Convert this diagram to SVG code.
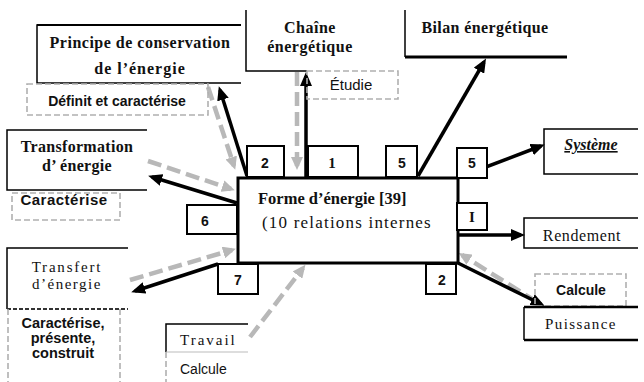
<svg xmlns="http://www.w3.org/2000/svg" width="644" height="382" viewBox="0 0 644 382">
<defs>
<style>
.bx{fill:none;stroke:#000;stroke-width:1.5}
.dbx{fill:none;stroke:#b0b0b0;stroke-width:1.6;stroke-dasharray:6,3}
.num{fill:#fff;stroke:#000;stroke-width:2}
.blk{stroke:#000;stroke-width:3.5;fill:none;marker-end:url(#ab)}
.gry{stroke:#b8b8b8;stroke-width:4.5;fill:none;stroke-dasharray:14,6;marker-end:url(#ag)}
</style>
<marker id="ab" markerUnits="userSpaceOnUse" markerWidth="14" markerHeight="12" viewBox="0 0 14 12" refX="10" refY="6" orient="auto">
<path d="M0,0 L14,6 L0,12 Z" fill="#000"/>
</marker>
<marker id="ag" markerUnits="userSpaceOnUse" markerWidth="13" markerHeight="12" viewBox="0 0 13 12" refX="9" refY="6" orient="auto">
<path d="M0,0 L13,6 L0,12 Z" fill="#b8b8b8"/>
</marker>
</defs>
<rect width="644" height="382" fill="#fff"/>

<g id="connectors">
<path class="gry" d="M208,87 L234,166"/>
<path class="gry" d="M148,161 L231,189"/>
<path class="gry" d="M130,280 L232,250"/>
<path class="gry" d="M250,337 L303,268"/>
<path class="gry" d="M537,302 L462,255"/>
<path class="gry" d="M297,72 L297,166"/>
<path class="blk" d="M247,176 L220,90"/>
<path class="blk" d="M306,178 L306,76"/>
<path class="blk" d="M418,176 L484,62"/>
<path class="blk" d="M457,178 L541,146"/>
<path class="blk" d="M458,235 L521,235"/>
<path class="blk" d="M458,263 L541,304"/>
<path class="blk" d="M237,203 L152,177"/>
<path class="blk" d="M218,264 L135,291"/>
</g>

<g id="central">
<rect x="238" y="178" width="220" height="85" fill="#fff" stroke="#000" stroke-width="3"/>
<text x="258" y="204" font-family="Liberation Serif, serif" font-weight="bold" font-size="16.5" fill="#111">Forme d’énergie [39]</text>
<text x="262" y="228" font-family="Liberation Serif, serif" font-size="17" fill="#111" letter-spacing="1.2">(10 relations internes</text>
</g>

<g font-family="Liberation Sans, Arial, sans-serif" font-weight="bold" font-size="14" fill="#111" text-anchor="middle">
<g id="n2top"><rect class="num" x="247" y="146" width="37" height="31"/><text x="265" y="168">2</text></g>
<g id="n1top"><rect class="num" x="308" y="146" width="50" height="31"/><text x="332" y="168" font-family="Liberation Serif, serif" font-size="15">1</text></g>
<g id="n5top"><rect class="num" x="386" y="146" width="31" height="31"/><text x="402" y="168">5</text></g>
<g id="n5right"><rect class="num" x="457" y="148" width="30" height="30"/><text x="472" y="168">5</text></g>
<g id="nIright"><rect class="num" x="457" y="203" width="30" height="27"/><text x="472" y="222" font-family="Liberation Serif, serif" font-size="15">I</text></g>
<g id="n6"><rect class="num" x="187" y="205" width="50" height="29"/><text x="205" y="226">6</text></g>
<g id="n7"><rect class="num" x="218" y="264" width="40" height="30"/><text x="238" y="285">7</text></g>
<g id="n2bot"><rect class="num" x="426" y="264" width="30" height="30"/><text x="442" y="285">2</text></g>
</g>

<g id="principe">
<path class="bx" d="M241,25 L37,25 L37,83 L241,83"/>
<path d="M37,25 L241,25" stroke="#000" stroke-width="2"/>
<text x="140" y="48" text-anchor="middle" font-family="Liberation Serif, serif" font-weight="bold" font-size="16" fill="#111" letter-spacing="0.5">Principe de conservation</text>
<text x="140" y="74" text-anchor="middle" font-family="Liberation Serif, serif" font-weight="bold" font-size="16" fill="#111" letter-spacing="1">de l’énergie</text>
</g>
<g id="definit">
<rect class="dbx" x="27" y="84" width="181" height="31"/>
<text x="117" y="106" text-anchor="middle" font-family="Liberation Sans, Arial, sans-serif" font-weight="bold" font-size="14" fill="#111">Définit et caractérise</text>
</g>

<g id="chaine">
<path class="bx" d="M246,10 L246,71 L307,71"/>
<text x="310" y="33" text-anchor="middle" font-family="Liberation Serif, serif" font-weight="bold" font-size="16" fill="#111" letter-spacing="0.5">Chaîne</text>
<text x="310" y="52" text-anchor="middle" font-family="Liberation Serif, serif" font-weight="bold" font-size="16" fill="#111" letter-spacing="0.5">énergétique</text>
</g>
<g id="etudie">
<rect class="dbx" x="307" y="71" width="91" height="28"/>
<text x="351" y="90" text-anchor="middle" font-family="Liberation Sans, Arial, sans-serif" font-size="15" fill="#111">Étudie</text>
</g>

<g id="bilan">
<path class="bx" d="M405,10 L405,57"/>
<path d="M405,57 L567,57" stroke="#000" stroke-width="3"/>
<text x="485" y="33" text-anchor="middle" font-family="Liberation Serif, serif" font-weight="bold" font-size="16" fill="#111" letter-spacing="0.4">Bilan énergétique</text>
</g>

<g id="systeme">
<path class="bx" d="M638,129 L544,129 L544,174 L638,174"/>
<text x="591" y="150" text-anchor="middle" font-family="Liberation Serif, serif" font-weight="bold" font-style="italic" font-size="16" text-decoration="underline" fill="#111">Système</text>
</g>

<g id="rendement">
<path class="bx" d="M638,218 L524,218 L524,248 L638,248"/>
<text x="582" y="241" text-anchor="middle" font-family="Liberation Serif, serif" font-size="16" fill="#111" letter-spacing="0.6">Rendement</text>
</g>

<g id="calcule-r">
<rect class="dbx" x="535" y="274" width="91" height="32"/>
<text x="581" y="295" text-anchor="middle" font-family="Liberation Sans, Arial, sans-serif" font-weight="bold" font-size="14" fill="#111">Calcule</text>
</g>

<g id="puissance">
<path d="M638,307 L524,307" stroke="#000" stroke-width="2.5"/>
<path class="bx" d="M524,307 L524,340"/>
<path d="M524,340 L638,340" stroke="#000" stroke-width="2.5"/>
<text x="581" y="329" text-anchor="middle" font-family="Liberation Serif, serif" font-size="15" fill="#111" letter-spacing="1.4">Puissance</text>
</g>

<g id="transformation">
<path class="bx" d="M147,130 L7,130 L7,190 L147,190"/>
<text x="77" y="152" text-anchor="middle" font-family="Liberation Serif, serif" font-weight="bold" font-size="16" fill="#111" letter-spacing="0.3">Transformation</text>
<text x="77" y="171" text-anchor="middle" font-family="Liberation Serif, serif" font-weight="bold" font-size="16" fill="#111" letter-spacing="0.3">d’ énergie</text>
</g>
<g id="caracterise">
<rect class="dbx" x="12" y="193" width="108" height="27"/>
<text x="64" y="205" text-anchor="middle" font-family="Liberation Sans, Arial, sans-serif" font-weight="bold" font-size="15" fill="#111" letter-spacing="0.5">Caractérise</text>
</g>

<g id="transfert">
<path class="bx" d="M128,248 L7,248 L7,309"/>
<path d="M7,309 L128,309" stroke="#333" stroke-width="2" stroke-dasharray="4,2"/>
<text x="67" y="272" text-anchor="middle" font-family="Liberation Serif, serif" font-size="15" fill="#111" letter-spacing="1.8">Transfert</text>
<text x="67" y="289" text-anchor="middle" font-family="Liberation Serif, serif" font-size="15" fill="#111" letter-spacing="1.5">d’énergie</text>
</g>
<g id="caract-presente" font-family="Liberation Sans, Arial, sans-serif" font-weight="bold" font-size="14.5" fill="#111" text-anchor="middle">
<path class="dbx" d="M8,309 L8,382 M120,309 L120,382"/>
<text x="63" y="328">Caractérise,</text>
<text x="63" y="343">présente,</text>
<text x="63" y="358">construit</text>
</g>

<g id="travail">
<path class="bx" d="M248,324 L166,324 L166,352"/>
<path d="M166,352 L248,352" stroke="#bbb" stroke-width="1"/>
<text x="180" y="345" font-family="Liberation Serif, serif" font-size="15" fill="#111" letter-spacing="2">Travail</text>
</g>
<g id="calcule-b">
<path class="dbx" d="M166,352 L166,382"/>
<text x="180" y="374" font-family="Liberation Sans, Arial, sans-serif" font-size="14" fill="#111">Calcule</text>
</g>
</svg>
